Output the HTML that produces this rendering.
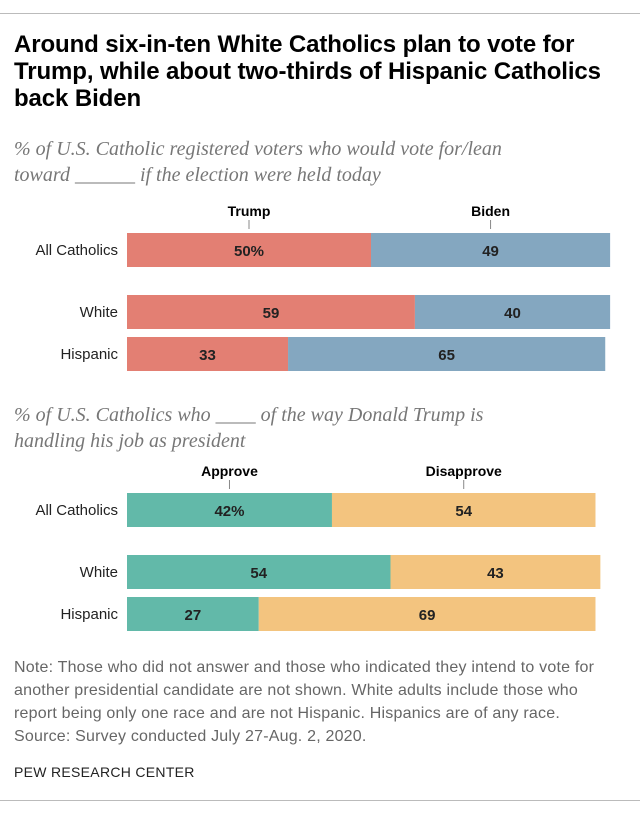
<!DOCTYPE html>
<html><head><meta charset="utf-8"><style>
body{margin:0;background:#fff;width:640px;height:814px;overflow:hidden;font-family:"Liberation Sans",sans-serif;}
.t{position:absolute;left:14px;top:31px;font-size:24px;font-weight:bold;line-height:27px;color:#000;width:630px;letter-spacing:-0.1px;white-space:nowrap}
.s{position:absolute;left:14px;font-family:"Liberation Serif",serif;font-style:italic;font-size:20px;color:#777;line-height:26px}
.n{position:absolute;left:14px;top:656px;font-size:16px;color:#666;line-height:23px;width:625px;white-space:nowrap;letter-spacing:0.2px}
.p{position:absolute;left:14px;top:764px;font-size:14px;color:#222;letter-spacing:0.3px}
.hr{position:absolute;left:0;width:640px;height:1px;background:#bbb}
</style></head><body>
<div class="hr" style="top:13px"></div>
<div class="t">Around six-in-ten White Catholics plan to vote for<br>Trump, while about two-thirds of Hispanic Catholics<br>back Biden</div>
<div class="s" style="top:136px">% of U.S. Catholic registered voters who would vote for/lean<br>toward ______ if the election were held today</div>
<div class="s" style="top:402px">% of U.S. Catholics who ____  of the way Donald Trump is<br>handling his job as president</div>
<div class="n">Note: Those who did not answer and those who indicated they intend to vote for<br>another presidential candidate are not shown. White adults include those who<br>report being only one race and are not Hispanic. Hispanics are of any race.<br>Source: Survey conducted July 27-Aug. 2, 2020.</div>
<div class="p">PEW RESEARCH CENTER</div>
<div class="hr" style="top:800px"></div>
<svg id="c" width="640" height="814" style="position:absolute;left:0;top:0"></svg>
<script>
const groups=["All Catholics","White","Hispanic"];
const trump=[50,59,33];
const biden=[49,40,65];
const approve=[42,54,27];
const disapprove=[54,43,69];
const svg=document.getElementById('c');
const NS='http://www.w3.org/2000/svg';
const x0=127,k=4.88;
function xs(v){return v*k;}
function el(t,a){const e=document.createElementNS(NS,t);for(const q in a)e.setAttribute(q,a[q]);svg.appendChild(e);return e;}
function chart(a,b,ys,h,ca,cb,la,lb,nm){
  const hy=ys[0]-10;
  [[la,x0+xs(a[0])/2],[lb,x0+xs(a[0])+xs(b[0])/2]].forEach((p,i)=>{
    const t=el('text',{x:p[1],y:hy-7,'text-anchor':'middle','font-size':14,'font-weight':'bold','font-family':'Liberation Sans'});
    t.textContent=p[0];
    
    
    const l=el('line',{x1:p[1],x2:p[1],y1:hy-3,y2:hy+6,stroke:'#888'});
    
    
  });
  groups.forEach((g,i)=>{
    const y=ys[i];
    const lab=el('text',{x:118,y:y+h/2+5,'text-anchor':'end','font-size':15,'font-family':'Liberation Sans',fill:'#222'});
    lab.textContent=g;
    
    
    const wa=xs(a[i]),wb=xs(b[i]);
    const r1=el('rect',{x:x0,y:y,width:wa,height:h,fill:ca});
    
    
    const r2=el('rect',{x:x0+wa,y:y,width:wb,height:h,fill:cb});
    
    
    [[a[i]+(i==0?'%':''),x0+wa/2],[b[i],x0+wa+wb/2]].forEach(p=>{
      const t=el('text',{x:p[1],y:y+h/2+6,'text-anchor':'middle','font-size':15,'font-weight':'bold','font-family':'Liberation Sans',fill:'#222'});
      t.textContent=p[0];
      
      
    });
  });
}
chart(trump,biden,[233,295,337],34,'#e37f73','#84a7c0','Trump','Biden','vote');
chart(approve,disapprove,[493,555,597],34,'#62b9a9','#f3c47f','Approve','Disapprove','approval');
</script>
</body></html>
